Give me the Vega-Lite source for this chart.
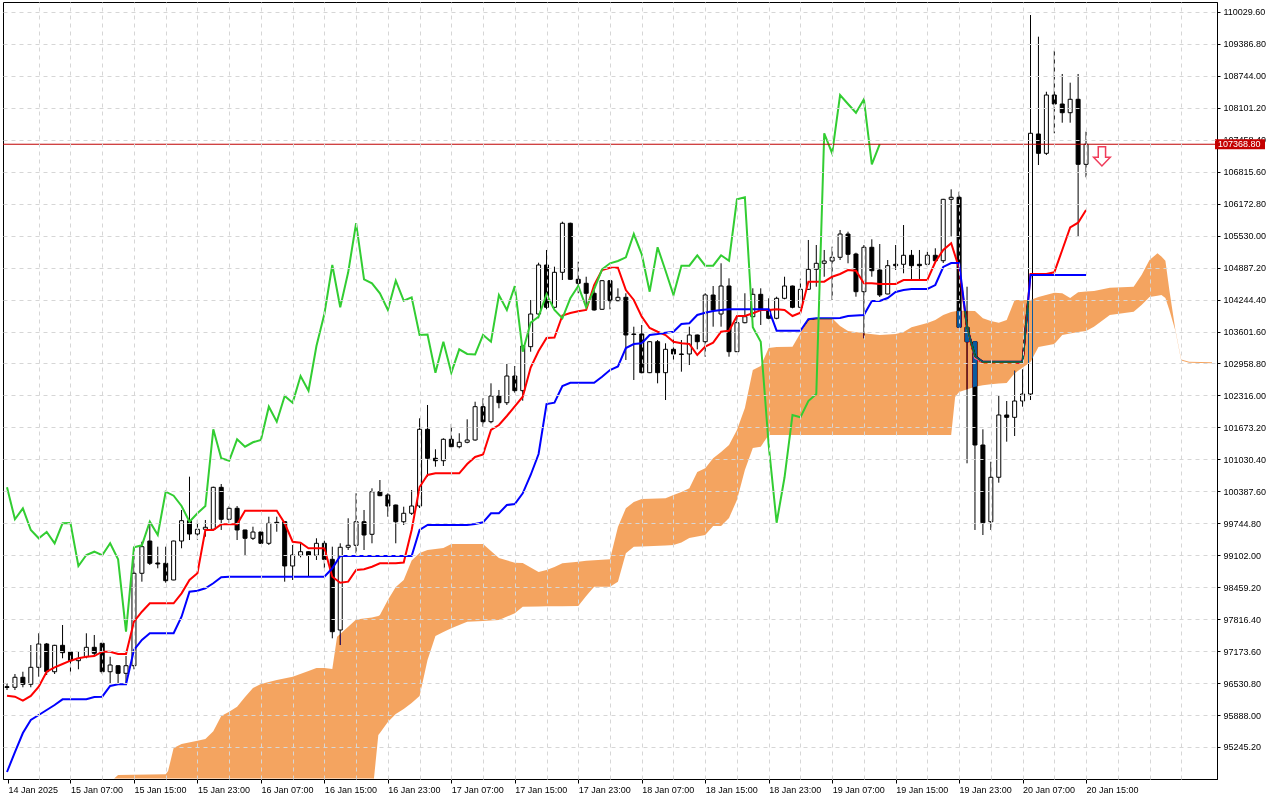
{
"$schema":"https://vega.github.io/schema/vega-lite/v6.json",
"width":1214,"height":777,
"autosize":{"type":"none"},
"padding":{"left":3,"top":2,"right":63,"bottom":21},
"background":"white",
"config":{"view":{"fill":"white","stroke":"black","strokeWidth":1},
"axis":{"labelFont":"Liberation Sans","labelFontSize":9,"labelColor":"black","domainColor":"black","tickColor":"black","gridColor":"#d6d6d6","gridDash":[4,4],"title":null}},
"datasets":{
"candles":[
{"i":0,"o":96458,"h":96532,"l":96391,"c":96442,"t":96277,"k":94742},
{"i":1,"o":96446,"h":96713,"l":96391,"c":96647,"t":96257,"k":95144},
{"i":2,"o":96647,"h":96759,"l":96446,"c":96506,"t":96176,"k":95526},
{"i":3,"o":96506,"h":97296,"l":96446,"c":96848,"t":96271,"k":95788},
{"i":4,"o":96848,"h":97532,"l":96659,"c":97317,"t":96458,"k":95889},
{"i":5,"o":97317,"h":97337,"l":96693,"c":96759,"t":96759,"k":95989},
{"i":6,"o":96759,"h":97300,"l":96713,"c":97290,"t":96848,"k":96090},
{"i":7,"o":97290,"h":97699,"l":97029,"c":97142,"t":96914,"k":96204},
{"i":8,"o":97156,"h":97165,"l":96693,"c":96981,"t":96981,"k":96204},
{"i":9,"o":96981,"h":97162,"l":96808,"c":97029,"t":97029,"k":96204},
{"i":10,"o":97061,"h":97532,"l":97029,"c":97250,"t":97061,"k":96204},
{"i":11,"o":97250,"h":97498,"l":97075,"c":97130,"t":97075,"k":96251},
{"i":12,"o":97331,"h":97340,"l":96713,"c":96759,"t":97162,"k":96257},
{"i":13,"o":96759,"h":97061,"l":96526,"c":96894,"t":97162,"k":96472},
{"i":14,"o":96880,"h":96885,"l":96526,"c":96727,"t":97115,"k":96506},
{"i":15,"o":96727,"h":97075,"l":96526,"c":96880,"t":97115,"k":96506},
{"i":16,"o":96880,"h":99242,"l":96808,"c":98739,"t":97765,"k":97196},
{"i":17,"o":98739,"h":99374,"l":98570,"c":99274,"t":97966,"k":97397},
{"i":18,"o":99388,"h":99744,"l":98906,"c":98940,"t":98135,"k":97532},
{"i":19,"o":98946,"h":99274,"l":98839,"c":98926,"t":98135,"k":97532},
{"i":20,"o":98940,"h":99274,"l":98550,"c":98590,"t":98135,"k":97532},
{"i":21,"o":98604,"h":99395,"l":98600,"c":99388,"t":98135,"k":97532},
{"i":22,"o":99388,"h":100012,"l":99242,"c":99797,"t":98336,"k":97866},
{"i":23,"o":99797,"h":100682,"l":99408,"c":99529,"t":98604,"k":98369},
{"i":24,"o":99529,"h":99811,"l":99408,"c":99624,"t":98739,"k":98389},
{"i":25,"o":99624,"h":99811,"l":99475,"c":99664,"t":99610,"k":98437},
{"i":26,"o":99624,"h":100481,"l":99610,"c":100468,"t":99610,"k":98538},
{"i":27,"o":100468,"h":100535,"l":99610,"c":99825,"t":99724,"k":98658},
{"i":28,"o":99825,"h":100092,"l":99744,"c":100046,"t":99724,"k":98670},
{"i":29,"o":100046,"h":100092,"l":99408,"c":99610,"t":99724,"k":98670},
{"i":30,"o":99610,"h":99615,"l":99107,"c":99443,"t":99998,"k":98670},
{"i":31,"o":99443,"h":99676,"l":99408,"c":99569,"t":99998,"k":98670},
{"i":32,"o":99569,"h":99575,"l":99328,"c":99342,"t":99998,"k":98670},
{"i":33,"o":99342,"h":99877,"l":99308,"c":99744,"t":99998,"k":98670},
{"i":34,"o":99764,"h":99877,"l":99575,"c":99750,"t":99998,"k":98670},
{"i":35,"o":99776,"h":99785,"l":98570,"c":98886,"t":99744,"k":98670},
{"i":36,"o":98886,"h":99308,"l":98604,"c":99107,"t":99374,"k":98670},
{"i":37,"o":99101,"h":99342,"l":99060,"c":99173,"t":99354,"k":98670},
{"i":38,"o":99173,"h":99180,"l":98670,"c":99101,"t":99242,"k":98670},
{"i":39,"o":99101,"h":99443,"l":99006,"c":99342,"t":99242,"k":98670},
{"i":40,"o":99342,"h":99394,"l":98839,"c":99020,"t":99242,"k":98670},
{"i":41,"o":99020,"h":99274,"l":97431,"c":97564,"t":98670,"k":98839},
{"i":42,"o":97598,"h":99342,"l":97296,"c":99262,"t":98550,"k":99087},
{"i":43,"o":99262,"h":99845,"l":99207,"c":99302,"t":98570,"k":99087},
{"i":44,"o":99302,"h":100348,"l":99141,"c":99776,"t":98805,"k":99087},
{"i":45,"o":99776,"h":100012,"l":99207,"c":99509,"t":98819,"k":99087},
{"i":46,"o":99523,"h":100448,"l":99342,"c":100380,"t":98871,"k":99087},
{"i":47,"o":100380,"h":100615,"l":100290,"c":100300,"t":98940,"k":99087},
{"i":48,"o":100314,"h":100348,"l":99877,"c":100092,"t":98940,"k":99087},
{"i":49,"o":100112,"h":100120,"l":99342,"c":99776,"t":98940,"k":99087},
{"i":50,"o":99776,"h":100078,"l":99710,"c":99946,"t":98956,"k":99087},
{"i":51,"o":99946,"h":100414,"l":99911,"c":100092,"t":99610,"k":99087},
{"i":52,"o":100092,"h":101856,"l":100052,"c":101635,"t":100474,"k":99610},
{"i":53,"o":101635,"h":102124,"l":100682,"c":101052,"t":100716,"k":99710},
{"i":54,"o":101052,"h":101233,"l":100883,"c":101003,"t":100750,"k":99710},
{"i":55,"o":101003,"h":101454,"l":100897,"c":101434,"t":100750,"k":99710},
{"i":56,"o":101434,"h":101742,"l":101273,"c":101285,"t":100750,"k":99710},
{"i":57,"o":101285,"h":101555,"l":101253,"c":101374,"t":100750,"k":99710},
{"i":58,"o":101374,"h":101836,"l":101354,"c":101420,"t":100937,"k":99710},
{"i":59,"o":101420,"h":102190,"l":101406,"c":102090,"t":101078,"k":99730},
{"i":60,"o":102090,"h":102259,"l":101687,"c":101788,"t":101128,"k":99764},
{"i":61,"o":101788,"h":102560,"l":101756,"c":102305,"t":101621,"k":99946},
{"i":62,"o":102305,"h":102426,"l":102058,"c":102170,"t":101721,"k":99946},
{"i":63,"o":102170,"h":102949,"l":102124,"c":102707,"t":101903,"k":100112},
{"i":64,"o":102707,"h":102908,"l":102371,"c":102412,"t":102098,"k":100132},
{"i":65,"o":102412,"h":103331,"l":102210,"c":103311,"t":102291,"k":100348},
{"i":66,"o":103297,"h":104236,"l":103196,"c":103954,"t":102878,"k":100716},
{"i":67,"o":103954,"h":104986,"l":103868,"c":104940,"t":103210,"k":101138},
{"i":68,"o":104940,"h":105242,"l":104049,"c":104089,"t":103471,"k":102144},
{"i":69,"o":104089,"h":104906,"l":104069,"c":104793,"t":103481,"k":102170},
{"i":70,"o":104793,"h":105811,"l":104638,"c":105779,"t":103924,"k":102506},
{"i":71,"o":105779,"h":105791,"l":104645,"c":104652,"t":103974,"k":102572},
{"i":72,"o":104652,"h":105006,"l":104371,"c":104572,"t":104008,"k":102572},
{"i":73,"o":104572,"h":104704,"l":104101,"c":104371,"t":104035,"k":102572},
{"i":74,"o":104371,"h":104437,"l":104021,"c":104035,"t":104537,"k":102572},
{"i":75,"o":104049,"h":104638,"l":104035,"c":104624,"t":104839,"k":102693},
{"i":76,"o":104624,"h":104638,"l":104049,"c":104222,"t":104885,"k":102828},
{"i":77,"o":104222,"h":104471,"l":104210,"c":104290,"t":104885,"k":102898},
{"i":78,"o":104290,"h":104371,"l":103029,"c":103532,"t":104437,"k":103270},
{"i":79,"o":103552,"h":103699,"l":102627,"c":103542,"t":104236,"k":103351},
{"i":80,"o":103552,"h":103733,"l":102761,"c":102774,"t":103900,"k":103365},
{"i":81,"o":102774,"h":103405,"l":102765,"c":103397,"t":103673,"k":103532},
{"i":82,"o":103397,"h":103431,"l":102560,"c":102774,"t":103598,"k":103552},
{"i":83,"o":102774,"h":103365,"l":102224,"c":103244,"t":103532,"k":103578},
{"i":84,"o":103244,"h":103445,"l":103029,"c":103150,"t":103397,"k":103598},
{"i":85,"o":103150,"h":103431,"l":102794,"c":103140,"t":103365,"k":103753},
{"i":86,"o":103150,"h":103699,"l":102928,"c":103532,"t":103351,"k":103767},
{"i":87,"o":103532,"h":103540,"l":103244,"c":103397,"t":103130,"k":103934},
{"i":88,"o":103397,"h":104371,"l":103095,"c":104336,"t":103297,"k":103980},
{"i":89,"o":104336,"h":104517,"l":103699,"c":104035,"t":103377,"k":104015},
{"i":90,"o":103954,"h":104974,"l":103699,"c":104517,"t":103598,"k":104035},
{"i":91,"o":104517,"h":104672,"l":103095,"c":103196,"t":103618,"k":104049},
{"i":92,"o":103196,"h":103900,"l":103190,"c":103779,"t":103914,"k":104049},
{"i":93,"o":103779,"h":104371,"l":103767,"c":103900,"t":103914,"k":104049},
{"i":94,"o":103900,"h":104471,"l":103888,"c":104350,"t":103968,"k":104049},
{"i":95,"o":104350,"h":104471,"l":103733,"c":104035,"t":104035,"k":104049},
{"i":96,"o":104035,"h":104270,"l":103848,"c":103868,"t":104035,"k":104049},
{"i":97,"o":103868,"h":104302,"l":103848,"c":104270,"t":104049,"k":103618},
{"i":98,"o":104270,"h":104704,"l":104250,"c":104517,"t":104035,"k":103618},
{"i":99,"o":104517,"h":104525,"l":104069,"c":104089,"t":103914,"k":103618},
{"i":100,"o":104089,"h":104664,"l":104075,"c":104451,"t":103980,"k":103618},
{"i":101,"o":104451,"h":105443,"l":104437,"c":104853,"t":104604,"k":103848},
{"i":102,"o":104853,"h":105342,"l":104503,"c":104974,"t":104604,"k":103868},
{"i":103,"o":104974,"h":105242,"l":104704,"c":105020,"t":104604,"k":103868},
{"i":104,"o":105020,"h":105308,"l":104236,"c":105095,"t":104704,"k":103868},
{"i":105,"o":105095,"h":105644,"l":105040,"c":105563,"t":104759,"k":103874},
{"i":106,"o":105563,"h":105610,"l":104974,"c":105155,"t":104839,"k":103914},
{"i":107,"o":105161,"h":105187,"l":104302,"c":104403,"t":104825,"k":103924},
{"i":108,"o":104403,"h":105342,"l":103465,"c":105296,"t":104572,"k":103934},
{"i":109,"o":105296,"h":105457,"l":104704,"c":104825,"t":104572,"k":104216},
{"i":110,"o":104839,"h":105362,"l":104296,"c":104336,"t":104558,"k":104216},
{"i":111,"o":104357,"h":105040,"l":104350,"c":104926,"t":104558,"k":104276},
{"i":112,"o":104954,"h":105342,"l":104839,"c":104926,"t":104558,"k":104397},
{"i":113,"o":104954,"h":105744,"l":104773,"c":105135,"t":104638,"k":104437},
{"i":114,"o":105135,"h":105242,"l":104638,"c":104926,"t":104638,"k":104457},
{"i":115,"o":104954,"h":105242,"l":104638,"c":104926,"t":104638,"k":104457},
{"i":116,"o":104954,"h":105207,"l":104906,"c":105135,"t":104638,"k":104457},
{"i":117,"o":105135,"h":105276,"l":105006,"c":105026,"t":105000,"k":104537},
{"i":118,"o":105026,"h":106270,"l":104980,"c":106261,"t":105242,"k":104900},
{"i":119,"o":106261,"h":106462,"l":105509,"c":106302,"t":105376,"k":104980},
{"i":120,"o":106302,"h":106414,"l":103680,"c":103687,"t":104880,"k":104980},
{"i":121,"o":103687,"h":104503,"l":100951,"c":103397,"t":103683,"k":103693},
{"i":122,"o":103397,"h":103405,"l":99610,"c":101319,"t":103069,"k":103109},
{"i":123,"o":101319,"h":101635,"l":99509,"c":99756,"t":102983,"k":102995},
{"i":124,"o":99776,"h":100983,"l":99610,"c":100670,"t":102983,"k":102995},
{"i":125,"o":100670,"h":102305,"l":100561,"c":101923,"t":102983,"k":102995},
{"i":126,"o":101923,"h":102204,"l":101386,"c":101876,"t":102983,"k":102995},
{"i":127,"o":101876,"h":102814,"l":101500,"c":102204,"t":102983,"k":102995},
{"i":128,"o":102204,"h":102842,"l":102090,"c":102345,"t":102969,"k":102995},
{"i":129,"o":102345,"h":109968,"l":102224,"c":107589,"t":104759,"k":104739},
{"i":130,"o":107575,"h":109532,"l":106951,"c":107186,"t":104759,"k":104739},
{"i":131,"o":107186,"h":108425,"l":107152,"c":108359,"t":104759,"k":104739},
{"i":132,"o":108359,"h":109250,"l":107589,"c":108178,"t":104793,"k":104739},
{"i":133,"o":108178,"h":108782,"l":107802,"c":108003,"t":105242,"k":104739},
{"i":134,"o":108003,"h":108607,"l":107802,"c":108273,"t":105698,"k":104739},
{"i":135,"o":108273,"h":108782,"l":105509,"c":106965,"t":105791,"k":104739},
{"i":136,"o":106965,"h":107621,"l":106704,"c":107368.8,"t":106046,"k":104739}
],
"chikou":[
{"i":0,"v":100468},{"i":1,"v":99825},{"i":2,"v":100046},{"i":3,"v":99610},{"i":4,"v":99443},{"i":5,"v":99569},{"i":6,"v":99342},{"i":7,"v":99744},{"i":8,"v":99750},{"i":9,"v":98886},
{"i":10,"v":99107},{"i":11,"v":99173},{"i":12,"v":99101},{"i":13,"v":99342},{"i":14,"v":99020},{"i":15,"v":97564},{"i":16,"v":99262},{"i":17,"v":99302},{"i":18,"v":99776},{"i":19,"v":99509},
{"i":20,"v":100380},{"i":21,"v":100300},{"i":22,"v":100092},{"i":23,"v":99776},{"i":24,"v":99946},{"i":25,"v":100092},{"i":26,"v":101635},{"i":27,"v":101052},{"i":28,"v":101003},{"i":29,"v":101434},
{"i":30,"v":101285},{"i":31,"v":101374},{"i":32,"v":101420},{"i":33,"v":102090},{"i":34,"v":101788},{"i":35,"v":102305},{"i":36,"v":102170},{"i":37,"v":102707},{"i":38,"v":102412},{"i":39,"v":103311},
{"i":40,"v":103954},{"i":41,"v":104940},{"i":42,"v":104089},{"i":43,"v":104793},{"i":44,"v":105779},{"i":45,"v":104652},{"i":46,"v":104572},{"i":47,"v":104371},{"i":48,"v":104035},{"i":49,"v":104624},
{"i":50,"v":104222},{"i":51,"v":104290},{"i":52,"v":103532},{"i":53,"v":103542},{"i":54,"v":102774},{"i":55,"v":103397},{"i":56,"v":102774},{"i":57,"v":103244},{"i":58,"v":103150},{"i":59,"v":103140},
{"i":60,"v":103532},{"i":61,"v":103397},{"i":62,"v":104336},{"i":63,"v":104035},{"i":64,"v":104517},{"i":65,"v":103196},{"i":66,"v":103779},{"i":67,"v":103900},{"i":68,"v":104350},{"i":69,"v":104035},
{"i":70,"v":103868},{"i":71,"v":104270},{"i":72,"v":104517},{"i":73,"v":104089},{"i":74,"v":104451},{"i":75,"v":104853},{"i":76,"v":104974},{"i":77,"v":105020},{"i":78,"v":105095},{"i":79,"v":105563},
{"i":80,"v":105155},{"i":81,"v":104403},{"i":82,"v":105296},{"i":83,"v":104825},{"i":84,"v":104336},{"i":85,"v":104926},{"i":86,"v":104926},{"i":87,"v":105135},{"i":88,"v":104926},{"i":89,"v":104926},
{"i":90,"v":105135},{"i":91,"v":105026},{"i":92,"v":106261},{"i":93,"v":106302},{"i":94,"v":103687},{"i":95,"v":103397},{"i":96,"v":101319},{"i":97,"v":99756},{"i":98,"v":100670},{"i":99,"v":101923},
{"i":100,"v":101876},{"i":101,"v":102204},{"i":102,"v":102345},{"i":103,"v":107589},{"i":104,"v":107186},{"i":105,"v":108359},{"i":106,"v":108178},{"i":107,"v":108003},{"i":108,"v":108273},{"i":109,"v":106965},
{"i":110,"v":107368.8}
],
"cloud":[
{"i":13.5,"a":94612,"b":94612},{"i":14,"a":94682,"b":94612},{"i":20,"a":94696,"b":94612},{"i":20.3,"a":94760,"b":94612},{"i":21,"a":95225,"b":94612},{"i":22,"a":95305,"b":94612},{"i":24,"a":95372,"b":94612},{"i":25,"a":95406,"b":94612},{"i":26,"a":95560,"b":94612},{"i":27,"a":95868,"b":94612},{"i":28,"a":95955,"b":94612},{"i":29,"a":96055,"b":94612},{"i":30,"a":96251,"b":94612},{"i":31,"a":96432,"b":94612},{"i":32,"a":96512,"b":94612},{"i":34,"a":96593,"b":94612},{"i":36,"a":96659,"b":94612},{"i":38,"a":96774,"b":94612},{"i":39,"a":96834,"b":94612},{"i":40,"a":96834,"b":94612},{"i":41,"a":96814,"b":94612},{"i":41.6,"a":97463,"b":94612},{"i":42,"a":97518,"b":94612},{"i":43,"a":97665,"b":94612},{"i":44,"a":97809,"b":94612},{"i":46,"a":97850,"b":94612},{"i":46.25,"a":97860,"b":94612},{"i":46.8,"a":97880,"b":95486},{"i":47,"a":97900,"b":95526},{"i":48,"a":98202,"b":95748},{"i":49,"a":98463,"b":95909},{"i":50,"a":98604,"b":96009},{"i":51,"a":98994,"b":96130},{"i":52,"a":99147,"b":96271},{"i":53,"a":99207,"b":96995},{"i":54,"a":99228,"b":97478},{"i":55,"a":99248,"b":97558},{"i":56,"a":99328,"b":97632},{"i":58,"a":99328,"b":97765},{"i":60,"a":99328,"b":97780},{"i":61,"a":99187,"b":97790},{"i":62,"a":99046,"b":97799},{"i":64,"a":98952,"b":97934},{"i":65,"a":98946,"b":98067},{"i":67,"a":98765,"b":98072},{"i":68,"a":98805,"b":98075},{"i":69,"a":98865,"b":98077},{"i":70,"a":98940,"b":98078},{"i":72,"a":98972,"b":98081},{"i":73,"a":98990,"b":98282},{"i":74,"a":99000,"b":98469},{"i":76,"a":99020,"b":98469},{"i":77,"a":99670,"b":98570},{"i":78,"a":100046,"b":99141},{"i":79,"a":100173,"b":99274},{"i":80,"a":100233,"b":99280},{"i":83,"a":100247,"b":99300},{"i":84,"a":100314,"b":99308},{"i":85,"a":100374,"b":99358},{"i":86,"a":100448,"b":99449},{"i":87,"a":100776,"b":99480},{"i":88,"a":100851,"b":99509},{"i":89,"a":101052,"b":99690},{"i":90,"a":101179,"b":99690},{"i":91,"a":101319,"b":99851},{"i":92,"a":101621,"b":100213},{"i":93,"a":102064,"b":100816},{"i":94,"a":102828,"b":101259},{"i":95,"a":102908,"b":101285},{"i":96,"a":103270,"b":101520},{"i":97,"a":103290,"b":101520},{"i":99,"a":103297,"b":101520},{"i":100,"a":103572,"b":101520},{"i":101,"a":103834,"b":101520},{"i":102,"a":103868,"b":101520},{"i":104,"a":103868,"b":101520},{"i":105,"a":103713,"b":101520},{"i":106,"a":103612,"b":101520},{"i":108,"a":103566,"b":101520},{"i":110,"a":103532,"b":101520},{"i":112,"a":103552,"b":101520},{"i":113,"a":103592,"b":101520},{"i":114,"a":103687,"b":101520},{"i":116,"a":103773,"b":101520},{"i":117,"a":103834,"b":101520},{"i":118,"a":103934,"b":101520},{"i":119,"a":103994,"b":101520},{"i":119.5,"a":104010,"b":102285},{"i":120,"a":104021,"b":102385},{"i":122,"a":104015,"b":102492},{"i":123,"a":103868,"b":102520},{"i":124,"a":103813,"b":102540},{"i":125,"a":103779,"b":102555},{"i":126,"a":103834,"b":102566},{"i":127,"a":104236,"b":102761},{"i":129,"a":104236,"b":102989},{"i":130,"a":104296,"b":103290},{"i":132,"a":104383,"b":103351},{"i":133,"a":104371,"b":103532},{"i":134,"a":104276,"b":103560},{"i":135,"a":104391,"b":103590},{"i":136,"a":104405,"b":103612},{"i":137,"a":104417,"b":103699},{"i":139,"a":104483,"b":103934},{"i":142,"a":104503,"b":104000},{"i":143,"a":104739,"b":104135},{"i":144,"a":105040,"b":104296},{"i":145,"a":105175,"b":104320},{"i":145.5,"a":105110,"b":104336},{"i":146,"a":105026,"b":104276},{"i":146.5,"a":104437,"b":104035},{"i":147.25,"a":103642,"b":103622},{"i":148,"a":103039,"b":103019},{"i":149,"a":102993,"b":102973},{"i":151.875,"a":102985,"b":102965}
],
"price":[{"i":151.875,"v":107368.8,"label":"107368.80"}]
},
"resolve":{"axis":{"x":"independent","y":"independent"}},
"layer":[
{"data":{"name":"candles"},
 "mark":{"type":"rule","color":"black","strokeWidth":1,"clip":true},
 "encoding":{
  "x":{"field":"i","type":"quantitative","scale":{"domain":[0.125,151.875],"nice":false,"zero":false},
   "axis":{"orient":"bottom","values":[0.125,8,16,24,32,40,48,56,64,72,80,88,96,104,112,120,128,136],"labelExpr":"datum.value < 1 ? '14 Jan 2025' : utcFormat(utc(2025,0,14,23,0,0,0) + datum.value*3600000, '%d %b %H:%M')","labelAlign":"left","labelBaseline":"top","labelPadding":2,"tickSize":4,"grid":false,"labelOverlap":false,"labelFlush":false,"labelBound":false,"title":null}},
  "y":{"field":"l","type":"quantitative","scale":{"domain":[94601.2,110229.8],"nice":false,"zero":false},
   "axis":{"orient":"right","values":[95245.2,95888.0,96530.8,97173.6,97816.4,98459.2,99102.0,99744.8,100387.6,101030.4,101673.2,102316.0,102958.8,103601.6,104244.4,104887.2,105530.0,106172.8,106815.6,107458.4,108101.2,108744.0,109386.8,110029.6],"format":".2f","tickSize":3,"labelPadding":3,"grid":false,"labelOverlap":false,"labelBaseline":"middle","labelAlign":"left","title":null}},
  "y2":{"field":"h"}}},
{"data":{"name":"candles"},
 "mark":{"type":"bar","width":4,"stroke":"black","strokeWidth":1,"clip":true},
 "encoding":{
  "x":{"field":"i","type":"quantitative","scale":{"domain":[0.125,151.875],"nice":false,"zero":false},
   "axis":{"orient":"top","values":[4,8,12,16,20,24,28,32,36,40,44,48,52,56,60,64,68,72,76,80,84,88,92,96,100,104,108,112,116,120,124,128,132,136,140,144,148],"grid":true,"labels":false,"ticks":false,"domain":false,"zindex":1,"title":null}},
  "y":{"field":"o","type":"quantitative","scale":{"domain":[94601.2,110229.8],"nice":false,"zero":false},
   "axis":{"orient":"left","values":[95245.2,95888.0,96530.8,97173.6,97816.4,98459.2,99102.0,99744.8,100387.6,101030.4,101673.2,102316.0,102958.8,103601.6,104244.4,104887.2,105530.0,106172.8,106815.6,107458.4,108101.2,108744.0,109386.8,110029.6],"grid":true,"labels":false,"ticks":false,"domain":false,"zindex":1,"title":null}},
  "y2":{"field":"c"},
  "fill":{"condition":{"test":"datum.c >= datum.o","value":"white"},"value":"black"}}},
{"data":{"name":"candles"},
 "mark":{"type":"line","color":"#ff0000","strokeWidth":2},
 "encoding":{
  "x":{"field":"i","type":"quantitative","scale":{"domain":[0.125,151.875],"nice":false,"zero":false},"axis":null},
  "y":{"field":"t","type":"quantitative","scale":{"domain":[94601.2,110229.8],"nice":false,"zero":false},"axis":null}}},
{"data":{"name":"candles"},
 "mark":{"type":"line","color":"#0000ff","strokeWidth":2},
 "encoding":{
  "x":{"field":"i","type":"quantitative","scale":{"domain":[0.125,151.875],"nice":false,"zero":false},"axis":null},
  "y":{"field":"k","type":"quantitative","scale":{"domain":[94601.2,110229.8],"nice":false,"zero":false},"axis":null}}},
{"data":{"name":"cloud"},
 "mark":{"type":"area","color":"#0b5b9f","opacity":1,"blend":"difference","interpolate":"linear"},
 "encoding":{
  "x":{"field":"i","type":"quantitative","scale":{"domain":[0.125,151.875],"nice":false,"zero":false},"axis":null},
  "y":{"field":"a","type":"quantitative","scale":{"domain":[94601.2,110229.8],"nice":false,"zero":false},"axis":null},
  "y2":{"field":"b"}}},
{"data":{"name":"chikou"},
 "mark":{"type":"line","color":"#32cd32","strokeWidth":2},
 "encoding":{
  "x":{"field":"i","type":"quantitative","scale":{"domain":[0.125,151.875],"nice":false,"zero":false},"axis":null},
  "y":{"field":"v","type":"quantitative","scale":{"domain":[94601.2,110229.8],"nice":false,"zero":false},"axis":null}}},
{"data":{"name":"price"},
 "mark":{"type":"rule","color":"#c00000","strokeWidth":1},
 "encoding":{
  "y":{"field":"v","type":"quantitative","scale":{"domain":[94601.2,110229.8],"nice":false,"zero":false},"axis":null}}},
{"data":{"values":[{"i":138,"v":107126}]},
 "mark":{"type":"point","shape":"M -0.43 -1.13 L 0.43 -1.13 L 0.43 0.12 L 0.98 0.12 L 0 1.14 L -0.98 0.12 L -0.43 0.12 Z","size":289,"filled":false,"fill":"white","fillOpacity":1,"stroke":"#f03c5a","strokeWidth":1.5,"opacity":1},
 "encoding":{
  "x":{"field":"i","type":"quantitative","scale":{"domain":[0.125,151.875],"nice":false,"zero":false},"axis":null},
  "y":{"field":"v","type":"quantitative","scale":{"domain":[94601.2,110229.8],"nice":false,"zero":false},"axis":null}}},
{"data":{"name":"price"},
 "mark":{"type":"point","shape":"M 0.6 -1 L 10.6 -1 L 10.6 1 L 0.6 1 Z","size":100,"filled":true,"fill":"#c40000","fillOpacity":1,"opacity":1,"strokeOpacity":0},
 "encoding":{
  "x":{"field":"i","type":"quantitative","scale":{"domain":[0.125,151.875],"nice":false,"zero":false},"axis":null},
  "y":{"field":"v","type":"quantitative","scale":{"domain":[94601.2,110229.8],"nice":false,"zero":false},"axis":null}}},
{"data":{"name":"price"},
 "mark":{"type":"text","color":"white","font":"Liberation Sans","fontSize":9,"align":"left","baseline":"middle","dx":6},
 "encoding":{
  "x":{"field":"i","type":"quantitative","scale":{"domain":[0.125,151.875],"nice":false,"zero":false},"axis":null},
  "y":{"field":"v","type":"quantitative","scale":{"domain":[94601.2,110229.8],"nice":false,"zero":false},"axis":null},
  "text":{"field":"label"}}}
]
}
